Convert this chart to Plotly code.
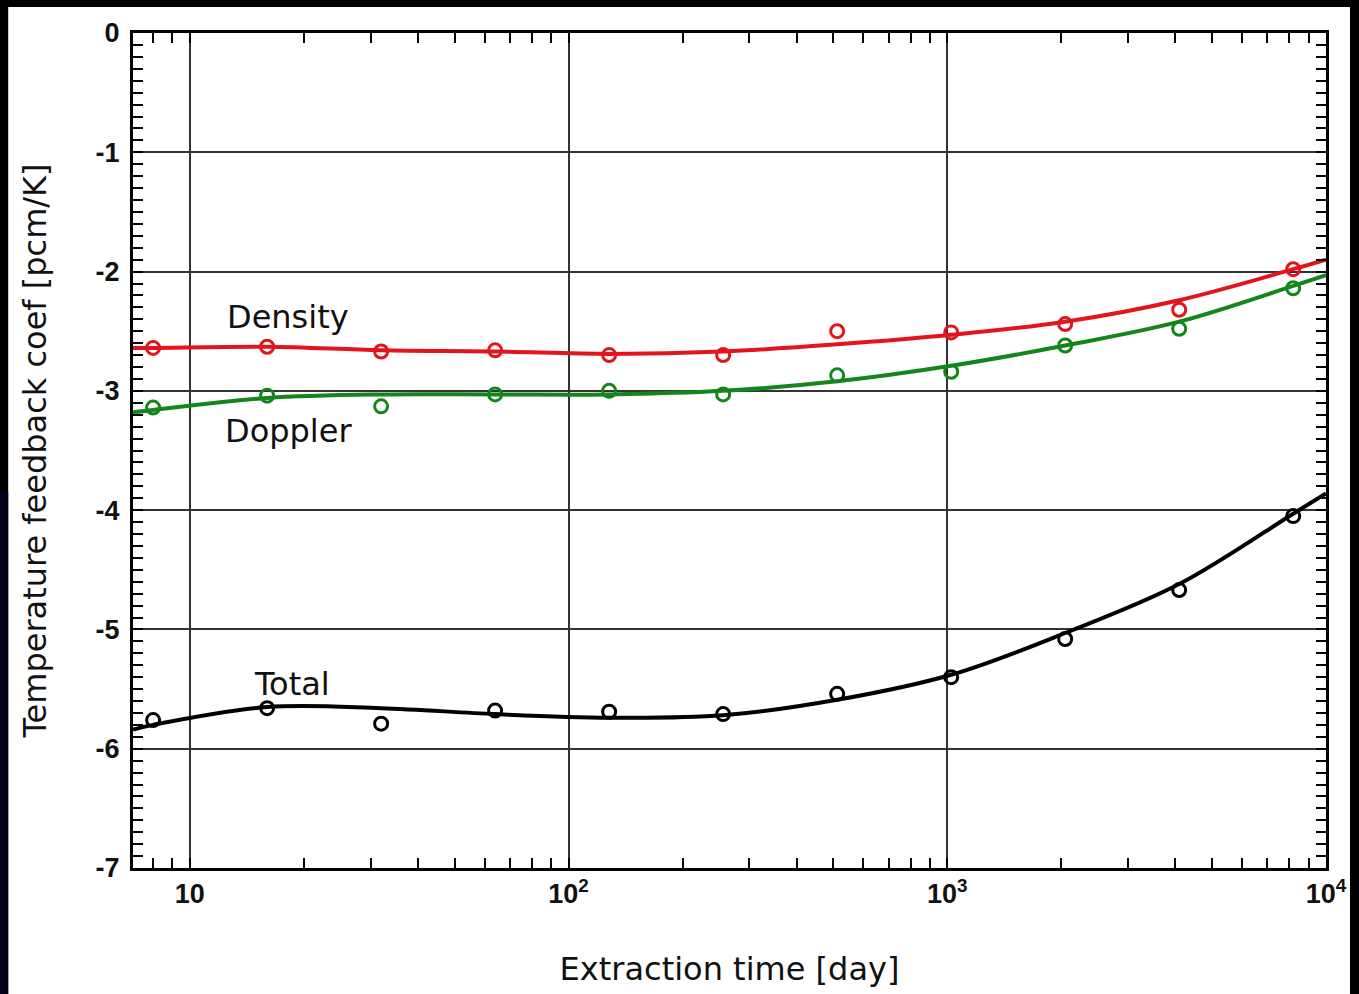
import plotly.graph_objects as go
import math

# ---- data ----
days = [8, 16, 32, 64, 128, 256, 512, 1024, 2048, 4096, 8192]
density_pts = [-2.64, -2.63, -2.67, -2.66, -2.70, -2.70, -2.50, -2.51, -2.44, -2.32, -1.98]
doppler_pts = [-3.14, -3.04, -3.13, -3.03, -3.00, -3.03, -2.87, -2.84, -2.62, -2.48, -2.14]
total_pts = [-5.76, -5.66, -5.79, -5.68, -5.69, -5.71, -5.54, -5.40, -5.08, -4.67, -4.05]

fit_days = [7.08, 8, 16, 32, 64, 128, 256, 512, 1024, 2048, 4096, 8192, 10000]
density_fit = [-2.64, -2.64, -2.63, -2.66, -2.67, -2.69, -2.67, -2.61, -2.53, -2.42, -2.24, -1.98, -1.90]
doppler_fit = [-3.18, -3.16, -3.06, -3.03, -3.03, -3.03, -3.00, -2.92, -2.79, -2.62, -2.42, -2.12, -2.03]
total_fit = [-5.84, -5.80, -5.65, -5.66, -5.71, -5.74, -5.72, -5.59, -5.38, -5.03, -4.62, -4.03, -3.86]

x_tickvals = [10, 100, 1000, 10000]
x_ticktext = ["10", "10<sup>2</sup>", "10<sup>3</sup>", "10<sup>4</sup>"]
y_tickvals = [0, -1, -2, -3, -4, -5, -6, -7]
y_ticktext = ["0", "-1", "-2", "-3", "-4", "-5", "-6", "-7"]

RED = "#e3141c"
GREEN = "#13861b"
BLACK = "#000000"

fig = go.Figure()
for name, fx, fy, px, py, col in [
    ("Density", fit_days, density_fit, days, density_pts, RED),
    ("Doppler", fit_days, doppler_fit, days, doppler_pts, GREEN),
    ("Total", fit_days, total_fit, days, total_pts, BLACK),
]:
    fig.add_trace(go.Scatter(x=fx, y=fy, mode="lines", line=dict(color=col, width=4, shape="spline", smoothing=1.0),
                             showlegend=False, name=name + " fit"))
    fig.add_trace(go.Scatter(x=px, y=py, mode="markers",
                             marker=dict(symbol="circle-open", size=13, color=col, line=dict(width=3, color=col)),
                             showlegend=False, name=name))

label_font = "DejaVu Sans, Comic Sans MS, sans-serif"
tick_font = dict(family="Liberation Sans, Arial, sans-serif", size=27, color="#111111", weight="bold")

fig.update_xaxes(
    type="log", range=[0.85, 4.0],
    tickvals=x_tickvals, ticktext=x_ticktext, tickfont=tick_font,
    showgrid=True, gridcolor="#333333", gridwidth=1.5,
    showline=True, linecolor="black", linewidth=3, mirror="allticks",
    ticks="inside", ticklen=10, tickwidth=2, tickcolor="black",
    minor=dict(ticks="inside", ticklen=10, tickwidth=2, tickcolor="black", dtick="D1", showgrid=False),
    zeroline=False,
    title=dict(text="Extraction time [day]", font=dict(family=label_font, size=32, color="#111111"), standoff=50),
)
fig.update_yaxes(
    range=[-7, 0], tickvals=y_tickvals, ticktext=y_ticktext, tickfont=tick_font,
    showgrid=True, gridcolor="#333333", gridwidth=1.5,
    showline=True, linecolor="black", linewidth=3, mirror="allticks",
    ticks="inside", ticklen=10, tickwidth=2, tickcolor="black",
    minor=dict(ticks="inside", ticklen=10, tickwidth=2, tickcolor="black", dtick=0.1, showgrid=False),
    zeroline=False, ticklabelstandoff=5,
    title=dict(text="Temperature feedback coef [pcm/K]", font=dict(family=label_font, size=32, color="#111111"), standoff=40),
)

ann_font = dict(family=label_font, size=32, color="#111111")
for txt, xv, yv in [("Density", 18.2, -2.38), ("Doppler", 18.2, -3.34), ("Total", 18.6, -5.46)]:
    fig.add_annotation(x=math.log10(xv), y=yv, text=txt, showarrow=False, font=ann_font)

# white slide panel behind the chart
fig.add_shape(type="rect", xref="paper", yref="paper", x0=-0.1046, x1=1.0201, y0=-0.16, y1=1.0311,
              fillcolor="white", line=dict(width=0), layer="below")
# dark navy tint of the slide edge at lower left
fig.add_shape(type="rect", xref="paper", yref="paper", x0=-0.115, x1=-0.1046, y0=-0.16, y1=0.45,
              fillcolor="#00001e", line=dict(width=0), layer="below")

fig.update_layout(
    width=1359, height=994,
    margin=dict(l=133, r=31, t=33, b=124),
    paper_bgcolor="#000000", plot_bgcolor="white",
    showlegend=False,
)
fig.write_html("out.html", config={"displayModeBar": False},
               post_script="document.body.style.margin='0';document.body.style.background='#000';")
